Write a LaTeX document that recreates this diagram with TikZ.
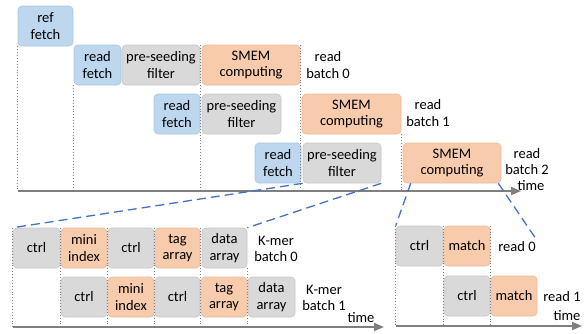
\documentclass[tikz,border=0pt]{standalone}
\usepackage{fontspec}
\setmainfont{Carlito}
\usetikzlibrary{arrows.meta}
\definecolor{bluef}{HTML}{BDD7EE}
\definecolor{blued}{HTML}{A9C6E3}
\definecolor{grayf}{HTML}{D9D9D9}
\definecolor{grayd}{HTML}{C6C6C6}
\definecolor{orf}{HTML}{F8CBAD}
\definecolor{ord}{HTML}{E9BA9A}
\definecolor{axc}{HTML}{7F7F7F}
\definecolor{dashc}{HTML}{4472C4}
\newcommand\bx[7]{\node[#1, minimum width={#5-#3}, minimum height={#6-#4}] (#2) at ({(#3+#5)/2},{(#4+#6)/2}) {#7};}
\begin{document}
\begin{tikzpicture}[x=1pt,y=-1pt,
 box/.style={rounded corners=4pt, line width=0.6pt, inner sep=0pt, align=center, font=\fontsize{14.5}{16.5}\selectfont},
 bbox/.style={box, fill=bluef, draw=blued},
 gbox/.style={box, fill=grayf, draw=grayd},
 obox/.style={box, fill=orf, draw=ord},
 lbl/.style={align=center, inner sep=0pt, font=\fontsize{14.5}{16.5}\selectfont},
 guide/.style={axc, dotted, line width=0.9pt},
 axis/.style={axc, line width=1.8pt, -{Triangle[length=10pt,width=8pt]}},
 zoomline/.style={dashc, line width=1.3pt, dash pattern=on 9pt off 5pt}]
\useasboundingbox (0,0) rectangle (587,333);
% ---------- top pipeline ----------
\bx{bbox}{ref}{18}{6}{73}{46}{ref\\fetch}
\bx{bbox}{rf1}{74}{45}{121}{85}{read\\fetch}
\bx{gbox}{pf1}{122}{45}{200}{85}{pre-seeding\\filter}
\bx{obox}{sm1}{202}{45}{300}{85}{SMEM\\computing}
\bx{bbox}{rf2}{154}{94}{200}{134}{read\\fetch}
\bx{gbox}{pf2}{202}{94}{281}{134}{pre-seeding\\filter}
\bx{obox}{sm2}{302}{94}{401}{134}{SMEM\\computing}
\bx{bbox}{rf3}{255}{143}{301}{183}{read\\fetch}
\bx{gbox}{pf3}{303}{143}{381}{183}{pre-seeding\\filter}
\bx{obox}{sm3}{403}{143}{501}{183}{SMEM\\computing}
\node[lbl] (rb0) at (328,65) {read\\batch 0};
\node[lbl] (rb1) at (428,113) {read\\batch 1};
\node[lbl] (rb2) at (527,161.5) {read\\batch 2};
\node[lbl] (t1) at (531,185.5) {time};
\coordinate (a1s) at (18,191);
\coordinate (a1e) at (521,191);
\draw[guide] (ref.south west) -- (ref.south west |- a1s);
\draw[guide] (rf1.south west) -- (rf1.south west |- a1s);
\draw[guide] (pf1.north east) -- (pf1.north east |- a1s);
\draw[guide] (sm1.north east) -- (sm1.north east |- a1s);
\draw[guide] (sm2.south east) -- (sm2.south east |- a1s);
\draw[axis] (a1s) -- (a1e);
% ---------- bottom left: K-mer ----------
\bx{gbox}{c0}{13}{228}{60}{268}{ctrl}
\bx{obox}{m0}{61}{228}{107}{268}{mini\\index}
\bx{gbox}{c0b}{108}{228}{154}{268}{ctrl}
\bx{obox}{t0}{155}{228}{200}{268}{tag\\array}
\bx{gbox}{d0}{202}{228}{247}{268}{data\\array}
\node[lbl] (k0) at (276,249) {K-mer\\batch 0};
\bx{gbox}{c1}{61}{277}{107}{317}{ctrl}
\bx{obox}{m1}{108}{277}{154}{317}{mini\\index}
\bx{gbox}{c1b}{155}{277}{200}{317}{ctrl}
\bx{obox}{t1b}{201}{277}{247}{317}{tag\\array}
\bx{gbox}{d1}{248}{277}{295}{317}{data\\array}
\node[lbl] (k1) at (324,298) {K-mer\\batch 1};
\node[lbl] (t2) at (361,318) {time};
\coordinate (a2s) at (13,327);
\coordinate (a2e) at (384,327);
\draw[guide] (c0.north west) -- (c0.north west |- a2s);
\draw[guide] (c0.north east) -- (c0.north east |- a2s);
\draw[guide] (m0.north east) -- (m0.north east |- a2s);
\draw[guide] (c0b.north east) -- (c0b.north east |- a2s);
\draw[guide] (t0.north east) -- (t0.north east |- a2s);
\draw[guide] (d0.south east) -- (d0.south east |- a2s);
\draw[axis] (a2s) -- (a2e);
% ---------- bottom right: match ----------
\bx{gbox}{r0c}{396}{226}{443}{266}{ctrl}
\bx{obox}{r0m}{444}{226}{490}{266}{match}
\node[lbl] (rd0) at (517,247) {read 0};
\bx{gbox}{r1c}{444}{276}{490}{316}{ctrl}
\bx{obox}{r1m}{491}{276}{537}{316}{match}
\node[lbl] (rd1) at (562,297) {read 1};
\node[lbl] (t3) at (567,316) {time};
\coordinate (a3s) at (396,326);
\coordinate (a3e) at (582,326);
\draw[guide] (r0c.north west) -- (r0c.north west |- a3s);
\draw[guide] (r0c.north east) -- (r0c.north east |- a3s);
\draw[guide] (r0m.north east) -- (r0m.north east |- a3s);
\draw[axis] (a3s) -- (a3e);
% ---------- zoom lines ----------
\draw[zoomline] (pf3.south west) -- (c0.north west);
\draw[zoomline] (pf3.south east) -- (d0.north east);
\draw[zoomline] ([xshift=8pt]sm3.south west) -- (r0c.north west);
\draw[zoomline] ([xshift=-3pt]sm3.south east) -- ([yshift=3pt]rd0.north east);
\end{tikzpicture}
\end{document}
